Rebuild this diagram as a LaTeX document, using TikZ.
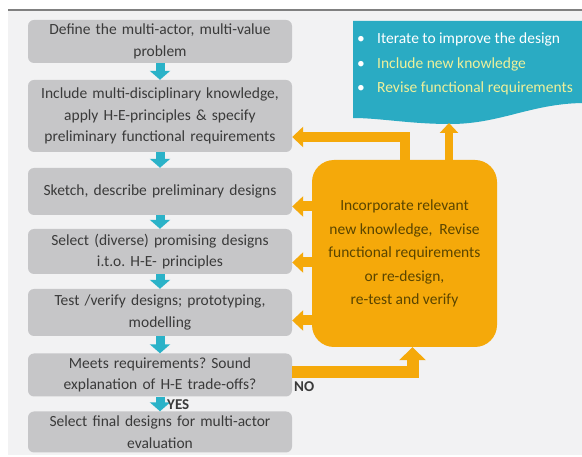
\documentclass[tikz,border=0pt]{standalone}
\usepackage{fontspec}
\setmainfont{Carlito}
\usetikzlibrary{arrows.meta}
\definecolor{panelgray}{HTML}{F2F2F3}
\definecolor{boxgray}{HTML}{C6C6C8}
\definecolor{steptext}{HTML}{3A3A3A}
\definecolor{cyanarrow}{HTML}{2AB2C8}
\definecolor{tealbox}{HTML}{2AABC3}
\definecolor{orangebox}{HTML}{F5A90A}
\definecolor{orangetext}{HTML}{5A4500}
\definecolor{paleyellow}{HTML}{EEF09A}
\frenchspacing

\begin{document}
\begin{tikzpicture}[x=1pt,y=-1pt,
	stepbox/.style={fill=boxgray, rounded corners=6pt, text width=258pt, inner xsep=3pt, inner ysep=0pt,
		align=center, text=steptext, font=\fontsize{15.5}{21.5}\selectfont},
	darrow/.style={draw=cyanarrow, line width=9pt, -{Triangle[width=20pt,length=9pt]}},
	oarrow/.style={draw=orangebox, line width=10pt, -{Triangle[width=20pt,length=11pt]}},
	answer/.style={text=steptext, font=\fontsize{15}{15}\selectfont\bfseries, inner sep=0pt}]
			\useasboundingbox (0,0) rectangle (582,457);
			\fill[panelgray] (8,10) rectangle (582,455);
			\draw[gray, line width=1.5pt] (8,10)--(582,10);
			%%%%%%%%%%%%%%%%%%%%%%%%%%%%%%%%
			\node[stepbox, minimum height=43pt] (s1) at (160,41.5){Define the multi-actor, multi-value\\ problem};
			\node[stepbox, minimum height=72pt] (s2) at (160,116){Include multi-disciplinary knowledge,\\ apply H-E-principles \& specify\\ preliminary functional requirements};
			\node[stepbox, minimum height=47pt] (s3) at (160,191.5){Sketch, describe preliminary designs};
			\node[stepbox, minimum height=45pt] (s4) at (160,251.5){Select (diverse) promising designs\\ i.t.o. H-E- principles};
			\node[stepbox, minimum height=47pt] (s5) at (160,312.5){Test /verify designs; prototyping,\\ modelling};
			\node[stepbox, minimum height=43pt] (s6) at (160,375){Meets requirements? Sound\\ explanation of H-E trade-offs?};
			\node[stepbox, minimum height=41pt] (s7) at (160,432){Select final designs for multi-actor\\ evaluation};
			\draw[darrow] (s1)--(s2);
			\draw[darrow] (s2)--(s3);
			\draw[darrow] (s3)--(s4);
			\draw[darrow] (s4)--(s5);
			\draw[darrow] (s5)--(s6);
			\draw[darrow] (s6)--(s7);
			\node[answer, anchor=west] (yes) at (167,405){YES};
			\node[answer, anchor=west] (no) at (294,387){NO};
			%%%%%%%%%%%%%%%%%%%%%%%%%%%%%
			\fill[tealbox] (353,21) -- (582,21) -- (582,103) .. controls (530,104) and (500,124) .. (450,124)
				.. controls (410,124) and (380,118) .. (353,118) -- cycle;
			\coordinate (tealbot) at (449,123);
			\node[anchor=west, align=left, inner sep=0pt, font=\fontsize{15.5}{24.5}\selectfont] (tips) at (357,64)
				{\makebox[20pt][l]{\color{white}\textbullet}{\color{white}Iterate to improve the design}\\
				 \makebox[20pt][l]{\color{white}\textbullet}{\color{paleyellow}Include new knowledge}\\
				 \makebox[20pt][l]{\color{white}\textbullet}{\color{paleyellow}Revise functional requirements}};
			%%%%%%%%%%%%%%%%%%%%%%%%%%%%%
			\node[fill=orangebox, rounded corners=22pt, minimum width=185pt, minimum height=187pt, align=center,
				text=orangetext, font=\fontsize{15.5}{23.5}\selectfont] (inc) at (404.5,253.5)
				{Incorporate relevant\\ new knowledge,~ Revise\\ functional requirements\\ or re-design,\\ re-test and verify};
			\draw[oarrow] (inc.north) |- ([yshift=-21pt]s2.east);
			\draw[oarrow, line width=8pt, -{Triangle[width=18pt,length=10pt]}] (inc.north -| tealbot)--(tealbot);
			\draw[oarrow] ([yshift=-15pt]s3.east -| inc.west)--([yshift=-15pt]s3.east);
			\draw[oarrow] ([yshift=-11pt]s4.east -| inc.west)--([yshift=-11pt]s4.east);
			\draw[oarrow] ([yshift=-8pt]s5.east -| inc.west)--([yshift=-8pt]s5.east);
			\draw[oarrow, line width=12pt, -{Triangle[width=26pt,length=13pt]}] ([yshift=3pt]s6.east) -| ([xshift=8pt]inc.south);
		\end{tikzpicture}
\end{document}
